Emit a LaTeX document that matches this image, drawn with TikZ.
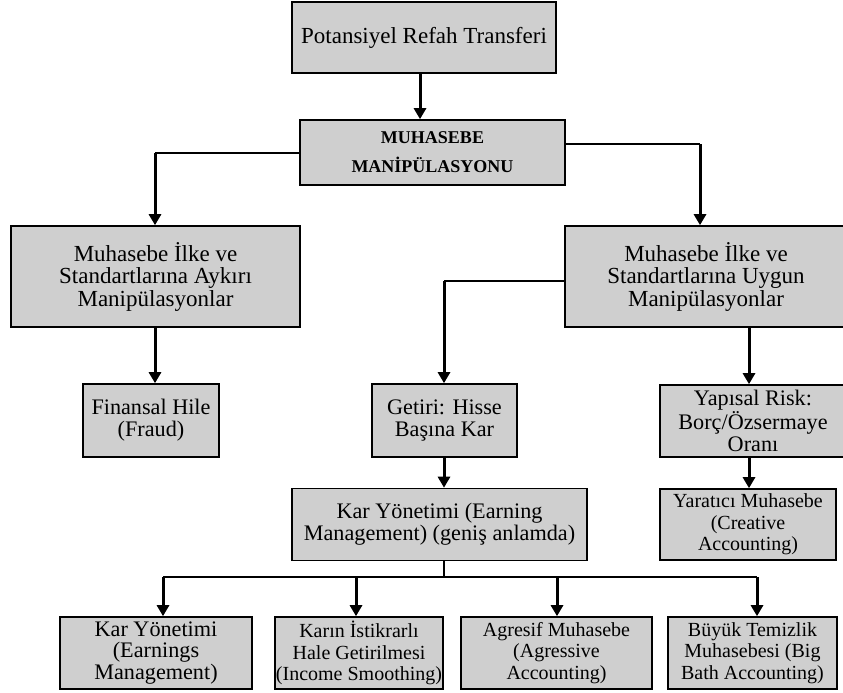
\documentclass[tikz,border=0pt]{standalone}
\usepackage{fontspec}
\setmainfont{Liberation Serif}
\usetikzlibrary{arrows.meta}
\definecolor{boxfill}{RGB}{207,207,207}
\begin{document}
\begin{tikzpicture}[x=1pt,y=-1pt,
 box/.style={draw=black, line width=1.6pt, fill=boxfill, inner sep=0pt, align=center, anchor=center},
 conn/.style={line width=1.3pt},
 arr/.style={line width=3pt, -{Triangle[width=12pt,length=11pt]}},
 bigf/.style={font=\fontsize{23}{22.5}\selectfont},
 midf/.style={font=\fontsize{22.2}{21.8}\selectfont},
 smallf/.style={font=\fontsize{20}{21.5}\selectfont},
 boldf/.style={font=\bfseries\fontsize{18}{29}\selectfont}]
\useasboundingbox (0,0) rectangle (843,693);

\node[box, bigf, minimum width=264pt, minimum height=71pt] (top) at (424,37.5) {Potansiyel Refah Transferi};
\node[box, boldf, minimum width=265pt, minimum height=65pt] (muh) at (432.5,152.5) {MUHASEBE\\MANİPÜLASYONU};
\node[box, bigf, minimum width=289pt, minimum height=101pt] (left) at (155.5,276.5) {Muhasebe İlke ve\\Standartlarına Aykırı\\Manipülasyonlar};
\node[box, bigf, minimum width=282pt, minimum height=101pt] (right) at (706,276.5) {Muhasebe İlke ve\\Standartlarına Uygun\\Manipülasyonlar};
\node[box, midf, minimum width=136pt, minimum height=73pt] (fraud) at (151,420.5) {Finansal Hile\\(Fraud)};
\node[box, midf, minimum width=145pt, minimum height=73pt] (getiri) at (444.5,420.5) {Getiri: Hisse\\Başına Kar};
\node[box, midf, minimum width=186pt, minimum height=72pt] (yapisal) at (753,421) {Yapısal Risk:\\Borç/Özsermaye\\Oranı};
\node[box, midf, minimum width=295pt, minimum height=72pt] (kar) at (439.5,524.5) {Kar Yönetimi (Earning\\Management) (geniş anlamda)};
\node[box, smallf, minimum width=176pt, minimum height=71pt] (yaratici) at (748,524.5) {Yaratıcı Muhasebe\\(Creative\\Accounting)};
\node[box, midf, minimum width=192pt, minimum height=72pt] (b1) at (156,653) {Kar Yönetimi\\(Earnings\\Management)};
\node[box, smallf, minimum width=168pt, minimum height=72pt] (b2) at (359,653) {Karın İstikrarlı\\Hale Getirilmesi\\(Income Smoothing)};
\node[box, smallf, minimum width=191pt, minimum height=72pt] (b3) at (556.5,653) {Agresif Muhasebe\\(Agressive\\Accounting)};
\node[box, smallf, minimum width=169pt, minimum height=72pt] (b4) at (752.5,653) {Büyük Temizlik\\Muhasebesi (Big\\Bath Accounting)};

% junction points
\coordinate (jt) at (420,73);
\coordinate (jl) at (155,153);
\coordinate (jr) at (700,144);
\coordinate (jg) at (444,281);
\coordinate (jy) at (749,327);
\coordinate (jk) at (444,577);
\coordinate (d1) at (163,577);
\coordinate (d2) at (356,577);
\coordinate (d3) at (557,577);
\coordinate (d4) at (757,577);

\draw[arr] (jt) -- (jt |- muh.north);
\draw[conn] (muh.west |- jl) -- (jl);
\draw[arr] (jl) -- (jl |- left.north);
\draw[conn] (muh.east |- jr) -- (jr);
\draw[arr] (jr) -- (jr |- right.north);
\draw[arr] (left.south -| jl) -- (jl |- fraud.north);
\draw[conn] (right.west |- jg) -- (jg);
\draw[arr] (jg) -- (jg |- getiri.north);
\draw[arr] (jy) -- (jy |- yapisal.north);
\draw[arr] (yapisal.south -| jy) -- (jy |- yaratici.north);
\draw[arr] (getiri.south -| jg) -- (jg |- kar.north);
\draw[conn] (kar.south -| jk) -- (jk);
\draw[conn] (d1) -- (d4);
\draw[arr] (d1) -- (d1 |- b1.north);
\draw[arr] (d2) -- (d2 |- b2.north);
\draw[arr] (d3) -- (d3 |- b3.north);
\draw[arr] (d4) -- (d4 |- b4.north);
\end{tikzpicture}
\end{document}
